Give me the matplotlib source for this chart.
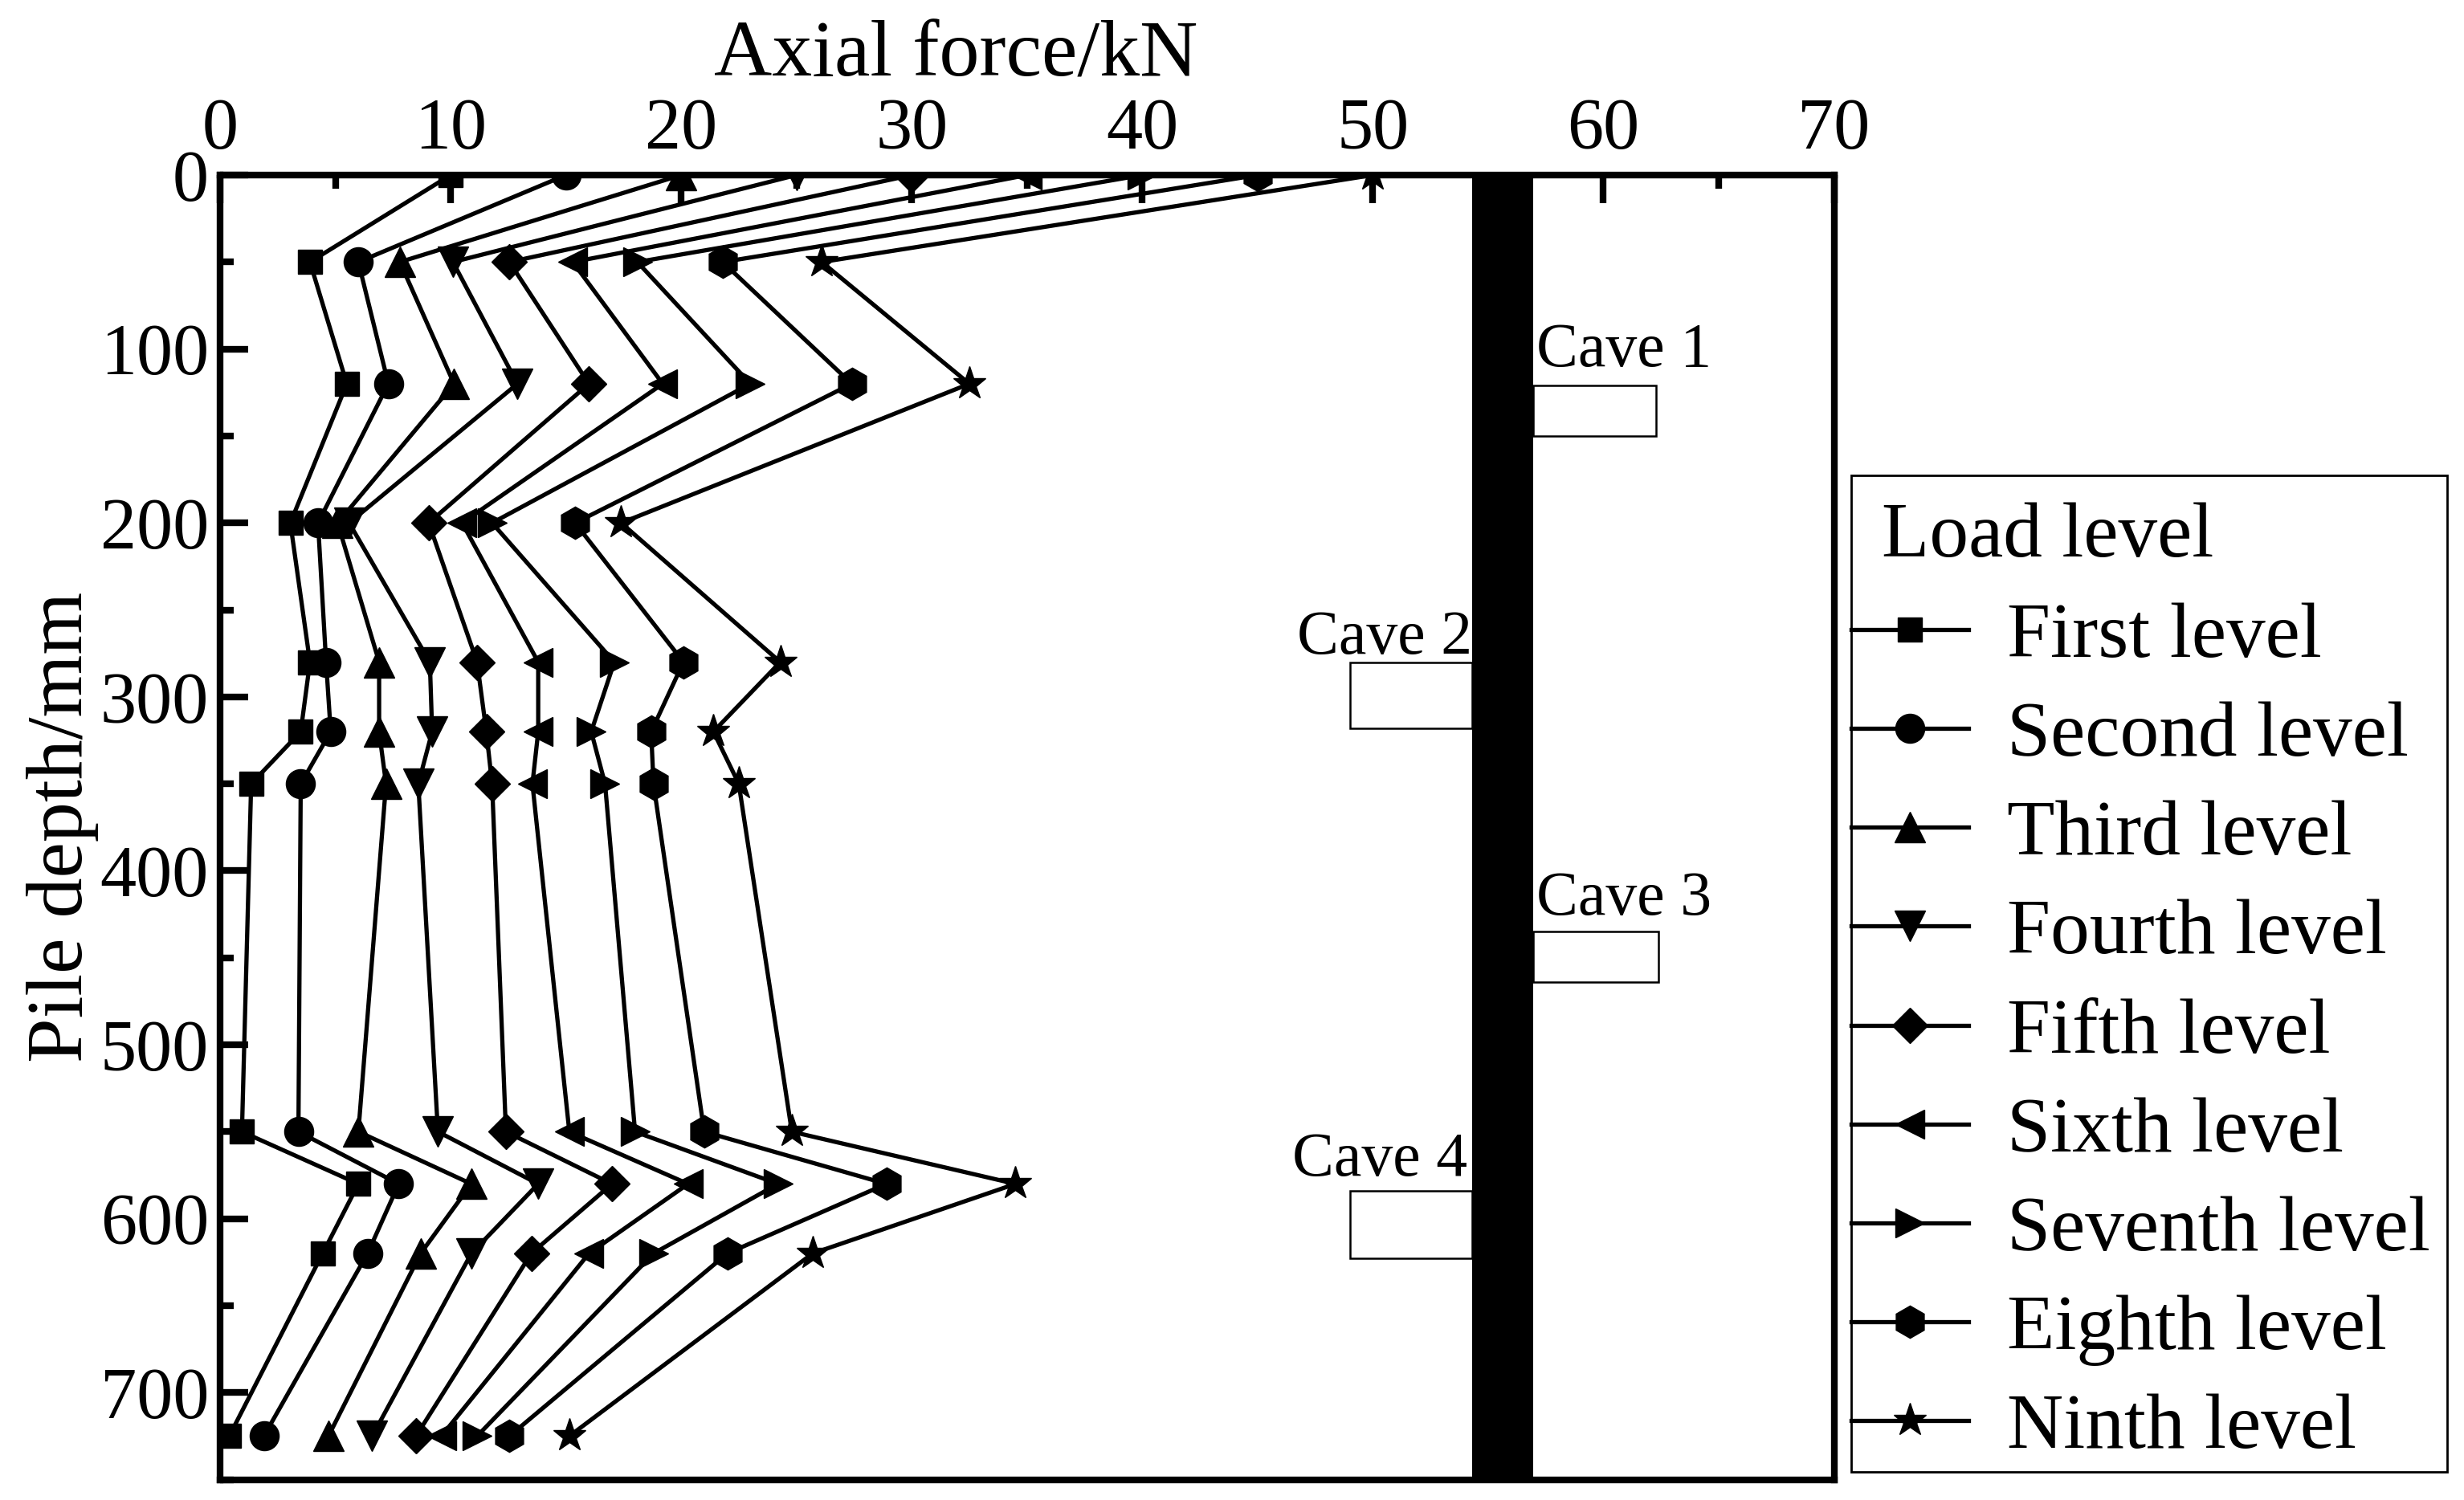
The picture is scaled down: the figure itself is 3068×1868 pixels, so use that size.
import matplotlib
matplotlib.use("Agg")
import matplotlib.pyplot as plt
from matplotlib.patches import Rectangle

plt.rcParams["font.family"] = ["Liberation Serif", "DejaVu Serif"]

# pile depth of each gauge (mm)
depth = [0, 50, 120, 200, 280, 320, 350, 550, 580, 620, 725]

# axial force (kN) per load level
first = [10, 3.9, 5.5, 3.05, 3.9, 3.5, 1.35, 0.95, 6.0, 4.45, 0.4]
second = [15, 6.0, 7.3, 4.25, 4.6, 4.8, 3.5, 3.4, 7.75, 6.4, 1.9]
third = [20, 7.8, 10.15, 5.1, 6.9, 6.9, 7.2, 6.0, 10.9, 8.7, 4.7]
fourth = [25, 10.1, 12.9, 5.6, 9.1, 9.2, 8.6, 9.45, 13.8, 10.9, 6.6]
fifth = [30, 12.55, 16.0, 9.05, 11.15, 11.55, 11.8, 12.4, 17.0, 13.5, 8.5]
sixth = [35, 15.3, 19.2, 10.5, 13.8, 13.8, 13.55, 15.15, 20.3, 16.0, 9.6]
seventh = [40, 18.1, 23.0, 11.8, 17.1, 16.1, 16.7, 18.0, 24.2, 18.8, 11.15]
eighth = [45, 21.8, 27.4, 15.4, 20.1, 18.7, 18.8, 21.0, 28.9, 22.0, 12.55]
ninth = [50, 26.1, 32.5, 17.4, 24.3, 21.4, 22.5, 24.8, 34.5, 25.7, 15.15]

levels = [first, second, third, fourth, fifth, sixth, seventh, eighth, ninth]
level_names = ["First level", "Second level", "Third level", "Fourth level",
               "Fifth level", "Sixth level", "Seventh level", "Eighth level",
               "Ninth level"]
markers = ["s", "o", "^", "v", "D", "<", ">", "h", "*"]
marker_sizes = [22, 26, 28, 28, 22, 26, 26, 29, 31]

# pile and caves (force axis units, depth in mm)
pile_x = (54.3, 56.95)
cave_names = ["Cave 1", "Cave 2", "Cave 3", "Cave 4"]
cave_x = [(56.95, 62.3), (49.0, 54.3), (56.95, 62.4), (49.0, 54.3)]
cave_depth = [(121, 150), (280, 318), (435, 464), (584, 623)]
cave_label_xy = [(57.1, 110), (54.3, 275), (57.1, 425), (54.1, 575)]
cave_label_ha = ["left", "right", "left", "right"]

fig = plt.figure(figsize=(30.68, 18.68), dpi=100)
ax = fig.add_axes([0.0893, 0.0136, 0.655, 0.8697])

lines = []
for vals, name, mk, ms in zip(levels, level_names, markers, marker_sizes):
    ln, = ax.plot(vals, depth, color="black", lw=3.8, marker=mk, ms=ms,
                  label=name, zorder=3)
    lines.append(ln)

# pile column
ax.add_patch(Rectangle((pile_x[0], 0), pile_x[1] - pile_x[0], 750,
                       facecolor="black", edgecolor="none", zorder=2))
# caves
for (x0, x1), (d0, d1) in zip(cave_x, cave_depth):
    ax.add_patch(Rectangle((x0, d0), x1 - x0, d1 - d0, facecolor="white",
                           edgecolor="black", lw=1.8, zorder=2))
for name, (tx, ty), ha in zip(cave_names, cave_label_xy, cave_label_ha):
    ax.text(tx, ty, name, fontsize=56, ha=ha, va="baseline")

ax.set_xlim(0, 70)
ax.set_ylim(750, 0)
ax.set_xticks(range(0, 71, 10))
ax.set_xticks(range(5, 70, 10), minor=True)
ax.set_yticks(range(0, 701, 100))
ax.set_yticks(range(50, 751, 100), minor=True)
ax.xaxis.tick_top()
ax.xaxis.set_label_position("top")
ax.tick_params(which="both", direction="in", width=6, top=True,
               bottom=False, left=True, right=False)
ax.tick_params(which="major", length=25)
ax.tick_params(which="minor", length=12)
ax.tick_params(axis="x", labelsize=65, pad=10)
ax.tick_params(axis="y", labelsize=65, pad=10)
for sp in ax.spines.values():
    sp.set_linewidth(6)

ax.set_xlabel("Axial force/kN", fontsize=72)
ax.xaxis.set_label_coords(0.456, 1.076)
ax.set_ylabel("Pile depth/mm", fontsize=72)
ax.yaxis.set_label_coords(-0.075, 0.5)

# legend with separate frame and title
fig.text(0.7637, 0.6292, "Load level", fontsize=70, va="baseline")
ax.legend(handles=lines, loc="upper left", bbox_to_anchor=(0.7512, 0.5984),
          bbox_transform=fig.transFigure, frameon=False, fontsize=70,
          borderpad=0, borderaxespad=0, handlelength=1.5,
          handletextpad=0.5, labelspacing=0.35, numpoints=1)
fig.patches.append(Rectangle((0.7512, 0.0188), 0.2418, 0.6645,
                             transform=fig.transFigure, fill=False,
                             edgecolor="black", lw=2))

fig.savefig("out.png", dpi=100)
